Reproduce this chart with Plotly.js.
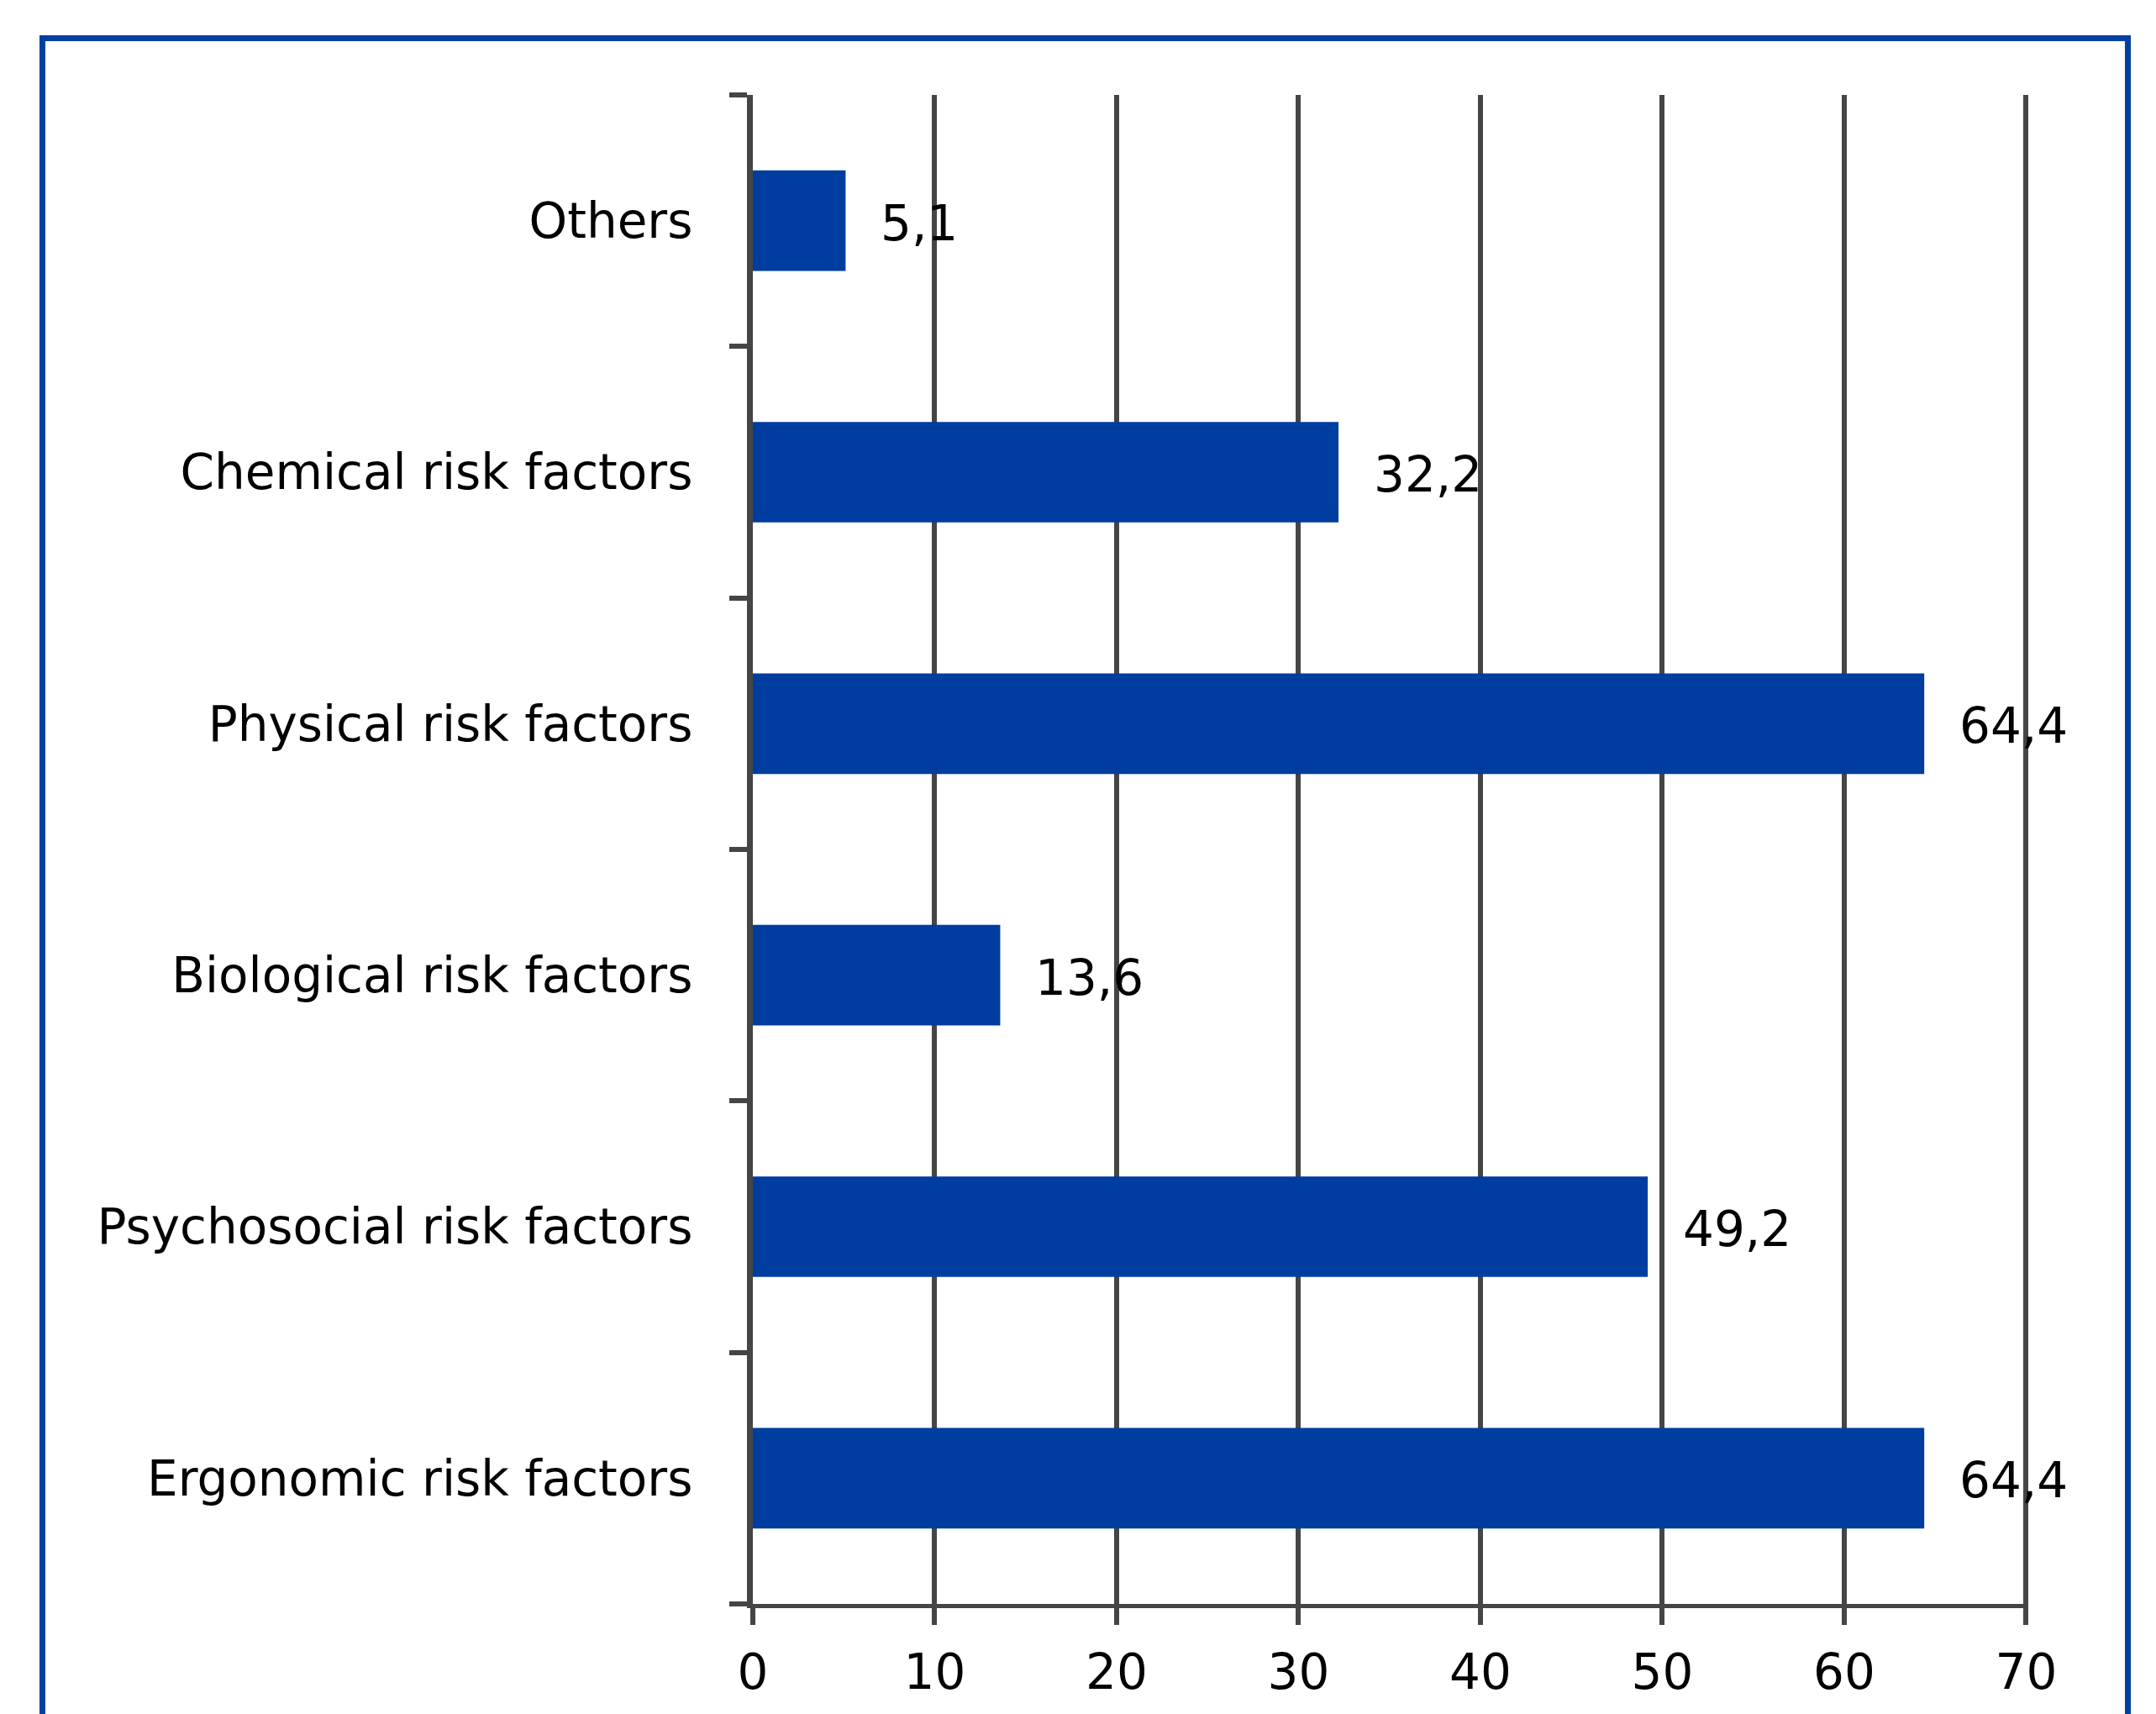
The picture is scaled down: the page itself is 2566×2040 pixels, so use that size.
<!DOCTYPE html>
<html>
<head>
<meta charset="utf-8">
<script src="https://cdn.plot.ly/plotly-3.0.1.min.js"></script>
<style>
  html, body { margin: 0; padding: 0; background: #ffffff; }
  #chart { width: 2566px; height: 2040px; }
</style>
</head>
<body>
<div id="chart"></div>
<script>
// Data
const categories = [
  "Ergonomic risk factors",
  "Psychosocial risk factors",
  "Biological risk factors",
  "Physical risk factors",
  "Chemical risk factors",
  "Others"
];
const values = [64.4, 49.2, 13.6, 64.4, 32.2, 5.1];
const xTickValues = [0, 10, 20, 30, 40, 50, 60, 70];

const barColor = "#003DA0";
const lineColor = "#454545";
const fontFamily = "DejaVu Sans, Verdana, sans-serif";
const fontSize = 58;

const labels = values.map(v => v.toFixed(1).replace(".", ","));

const trace = {
  type: "bar",
  orientation: "h",
  x: values,
  y: categories,
  marker: { color: barColor, line: { width: 0 } },
  hoverinfo: "x+y"
};

const annotations = categories.map((c, i) => ({
  x: values[i],
  y: c,
  xref: "x",
  yref: "y",
  text: labels[i],
  showarrow: false,
  xanchor: "left",
  yanchor: "middle",
  xshift: 40,
  yshift: -3,
  font: { family: fontFamily, size: fontSize, color: "#000000" }
}));

const layout = {
  width: 2566,
  height: 2040,
  margin: { l: 896, r: 152, t: 113, b: 131, pad: 0 },
  paper_bgcolor: "#ffffff",
  plot_bgcolor: "#ffffff",
  showlegend: false,
  bargap: 0.6,
  font: { family: fontFamily, size: fontSize, color: "#000000" },
  xaxis: {
    range: [0, 70.12],
    tickvals: xTickValues,
    ticktext: xTickValues.map(String),
    showgrid: true,
    gridcolor: lineColor,
    gridwidth: 6,
    zeroline: false,
    showline: true,
    linecolor: lineColor,
    linewidth: 5,
    ticks: "outside",
    ticklen: 20,
    tickwidth: 6,
    tickcolor: lineColor,
    ticklabelstandoff: 6,
    tickfont: { family: fontFamily, size: fontSize, color: "#000000" },
    fixedrange: true
  },
  yaxis: {
    type: "category",
    categoryorder: "array",
    categoryarray: categories,
    showgrid: false,
    zeroline: false,
    showline: true,
    linecolor: lineColor,
    linewidth: 7,
    ticks: "outside",
    tickson: "boundaries",
    ticklen: 21,
    tickwidth: 6,
    tickcolor: lineColor,
    ticklabelstandoff: 53,
    tickfont: { family: fontFamily, size: fontSize, color: "#000000" },
    fixedrange: true
  },
  annotations: annotations,
  shapes: [
    {
      type: "rect",
      xref: "paper",
      yref: "paper",
      x0: (50.5 - 896) / 1518,
      x1: (2532.5 - 896) / 1518,
      y0: (1909 - 2100) / 1796,
      y1: (1909 - 45.5) / 1796,
      line: { color: "#0040A0", width: 7 },
      fillcolor: "rgba(0,0,0,0)",
      layer: "below"
    }
  ]
};

Plotly.newPlot("chart", [trace], layout, { displayModeBar: false, staticPlot: true });
</script>
</body>
</html>
